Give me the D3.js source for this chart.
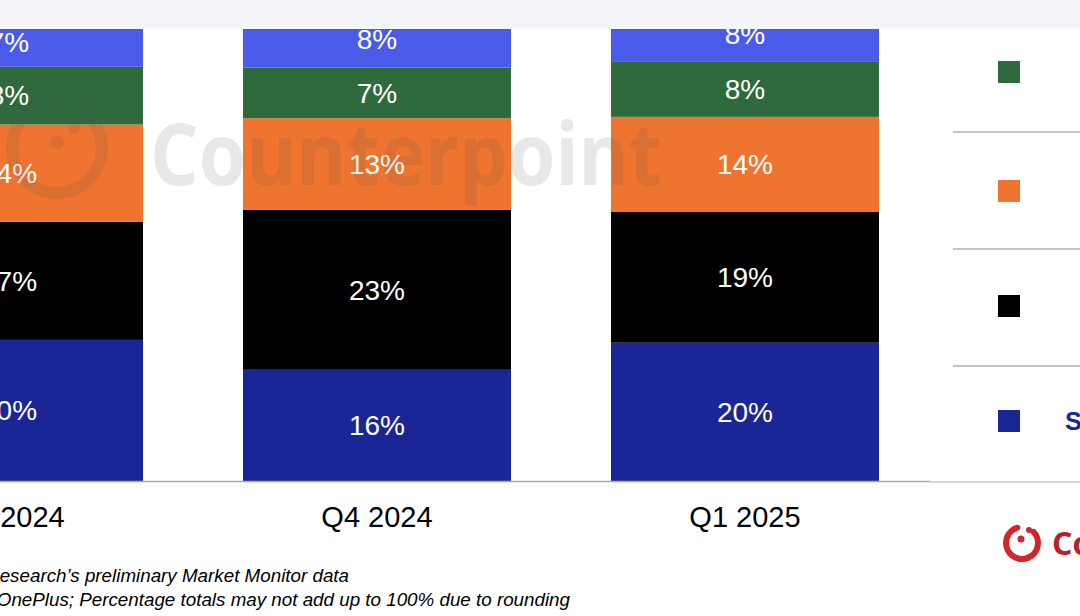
<!DOCTYPE html>
<html>
<head>
<meta charset="utf-8">
<script src="https://cdn.jsdelivr.net/npm/d3@7"></script>
<style>
  body { margin: 0; background: #fff; overflow: hidden; }
  svg { display: block; font-family: "Liberation Sans", Arial, sans-serif; }
</style>
</head>
<body>
<div id="chart"></div>
<script>
// chart data (shares in %; labels are rounded)
const categories = ["Q3 2024", "Q4 2024", "Q1 2025"];
const brands = ["Samsung", "Apple", "Xiaomi", "OPPO", "vivo"];
const samsung = [20.3, 16.0, 19.9];
const apple = [17.0, 23.0, 18.8];
const xiaomi = [14.0, 13.2, 13.7];
const oppo = [8.3, 7.3, 7.9];
const vivo = [7.0, 8.0, 8.0];
const colors = ["#1a2596", "#000000", "#ef7430", "#2e6a3b", "#4a5be9"];
const footnotes = [
    "Source: Counterpoint Research’s preliminary Market Monitor data",
    "Note: OPPO includes OnePlus; Percentage totals may not add up to 100% due to rounding"
];

const W = 1080, H = 616;
const svg = d3.select("#chart").append("svg")
    .attr("width", W).attr("height", H);

// build stack table
const table = categories.map((c, i) => ({
    cat: c,
    Samsung: samsung[i], Apple: apple[i], Xiaomi: xiaomi[i], OPPO: oppo[i], vivo: vivo[i]
}));
const stacked = d3.stack().keys(brands)(table);

const x = d3.scaleBand().domain(categories).range([-175, 929])
    .paddingInner(0.2717).paddingOuter(0.1359);
const y = d3.scaleLinear().domain([0, 100]).range([481, -214]);
const color = d3.scaleOrdinal().domain(brands).range(colors);

// bars
const layer = svg.append("g").selectAll("g")
    .data(stacked).enter().append("g")
    .attr("fill", d => color(d.key));

layer.selectAll("rect")
    .data(d => d)
    .enter().append("rect")
    .attr("x", d => x(d.data.cat))
    .attr("width", x.bandwidth())
    .attr("y", d => y(d[1]))
    .attr("height", d => y(d[0]) - y(d[1]));

// value labels
layer.selectAll("text")
    .data(d => d)
    .enter().append("text")
    .attr("x", d => x(d.data.cat) + x.bandwidth() / 2)
    .attr("y", d => (y(d[0]) + y(d[1])) / 2)
    .attr("dy", "0.35em")
    .attr("text-anchor", "middle")
    .attr("fill", "#fff")
    .attr("font-size", 28)
    .text(d => Math.round(d[1] - d[0]) + "%");

// watermark
const wm = svg.append("g").attr("opacity", 0.13);
wm.append("path")
    .attr("transform", "translate(57,148)")
    .attr("d", d3.arc().innerRadius(39).outerRadius(51).startAngle(0.55).endAngle(2 * Math.PI - 0.05).cornerRadius(5)())
    .attr("fill", "#555");
wm.append("circle").attr("cx", 57).attr("cy", 142).attr("r", 7).attr("fill", "#555");
wm.append("circle").attr("cx", 74).attr("cy", 128).attr("r", 6).attr("fill", "#555");
wm.append("text")
    .attr("x", 150).attr("y", 185)
    .attr("font-family", "'Open Sans', 'DejaVu Sans', sans-serif")
    .attr("font-weight", "bold")
    .attr("font-size", 86)
    .attr("textLength", 512)
    .attr("lengthAdjust", "spacingAndGlyphs")
    .attr("fill", "#555")
    .text("Counterpoint");

// x axis
svg.append("line")
    .attr("x1", 0).attr("x2", 930).attr("y1", 481.5).attr("y2", 481.5)
    .attr("stroke", "#a6a6a6").attr("stroke-width", 1.5);

svg.append("g").selectAll("text")
    .data(categories).enter().append("text")
    .attr("x", d => x(d) + x.bandwidth() / 2)
    .attr("y", 527)
    .attr("text-anchor", "middle")
    .attr("font-size", 29)
    .attr("fill", "#000")
    .text(d => d);

// legend
const legendY = [421, 306, 191, 72, -45];
const legend = svg.append("g");
legend.selectAll("line")
    .data([132, 249, 366]).enter().append("line")
    .attr("x1", 953).attr("x2", W).attr("y1", d => d).attr("y2", d => d)
    .attr("stroke", "#b0b0b0").attr("stroke-width", 1.5);
legend.append("line")
    .attr("x1", 930).attr("x2", W).attr("y1", 482).attr("y2", 482)
    .attr("stroke", "#c8c8c8").attr("stroke-width", 1.5);

const item = legend.selectAll("g.item")
    .data(brands).enter().append("g")
    .attr("class", "item")
    .attr("transform", (d, i) => `translate(998,${legendY[i]})`);
item.append("rect")
    .attr("x", 0).attr("y", -11).attr("width", 22).attr("height", 22)
    .attr("fill", d => color(d));
item.append("text")
    .attr("x", 131).attr("dy", "0.35em")
    .attr("text-anchor", "middle")
    .attr("font-size", 25)
    .attr("font-weight", "bold")
    .attr("fill", (d, i) => i === 0 ? "#1428a0" : "#000")
    .text(d => d === "Samsung" ? "SAMSUNG" : d);

// top band
const defs = svg.append("defs");
const grad = defs.append("linearGradient").attr("id", "band")
    .attr("x1", 0).attr("x2", 0).attr("y1", 0).attr("y2", 1);
grad.append("stop").attr("offset", "0").attr("stop-color", "#f3f4f7");
grad.append("stop").attr("offset", "0.85").attr("stop-color", "#f3f4f7");
grad.append("stop").attr("offset", "1").attr("stop-color", "#f8f9fb");
svg.append("rect")
    .attr("x", 0).attr("y", 0).attr("width", W).attr("height", 29)
    .attr("fill", "url(#band)");

// footnotes
svg.append("g").selectAll("text")
    .data(footnotes).enter().append("text")
    .attr("x", (d, i) => i === 0 ? 349 : 570)
    .attr("y", (d, i) => 582 + i * 24)
    .attr("text-anchor", "end")
    .attr("font-size", 18.8)
    .attr("font-style", "italic")
    .attr("fill", "#000")
    .text(d => d);

// bottom logo
const logo = svg.append("g").attr("fill", "#d3262c");
logo.append("path")
    .attr("transform", "translate(1022,543)")
    .attr("d", d3.arc().innerRadius(13).outerRadius(19).startAngle(0.6).endAngle(2 * Math.PI - 0.1).cornerRadius(3)())
logo.append("circle").attr("cx", 1021).attr("cy", 539).attr("r", 3.5);
logo.append("circle").attr("cx", 1029).attr("cy", 530).attr("r", 3);
logo.append("text")
    .attr("x", 1052).attr("y", 555)
    .attr("font-family", "'Open Sans', 'DejaVu Sans', sans-serif")
    .attr("font-weight", "bold")
    .attr("font-size", 32)
    .attr("fill", "#b5202b")
    .text("Counterpoint");
</script>
</body>
</html>
